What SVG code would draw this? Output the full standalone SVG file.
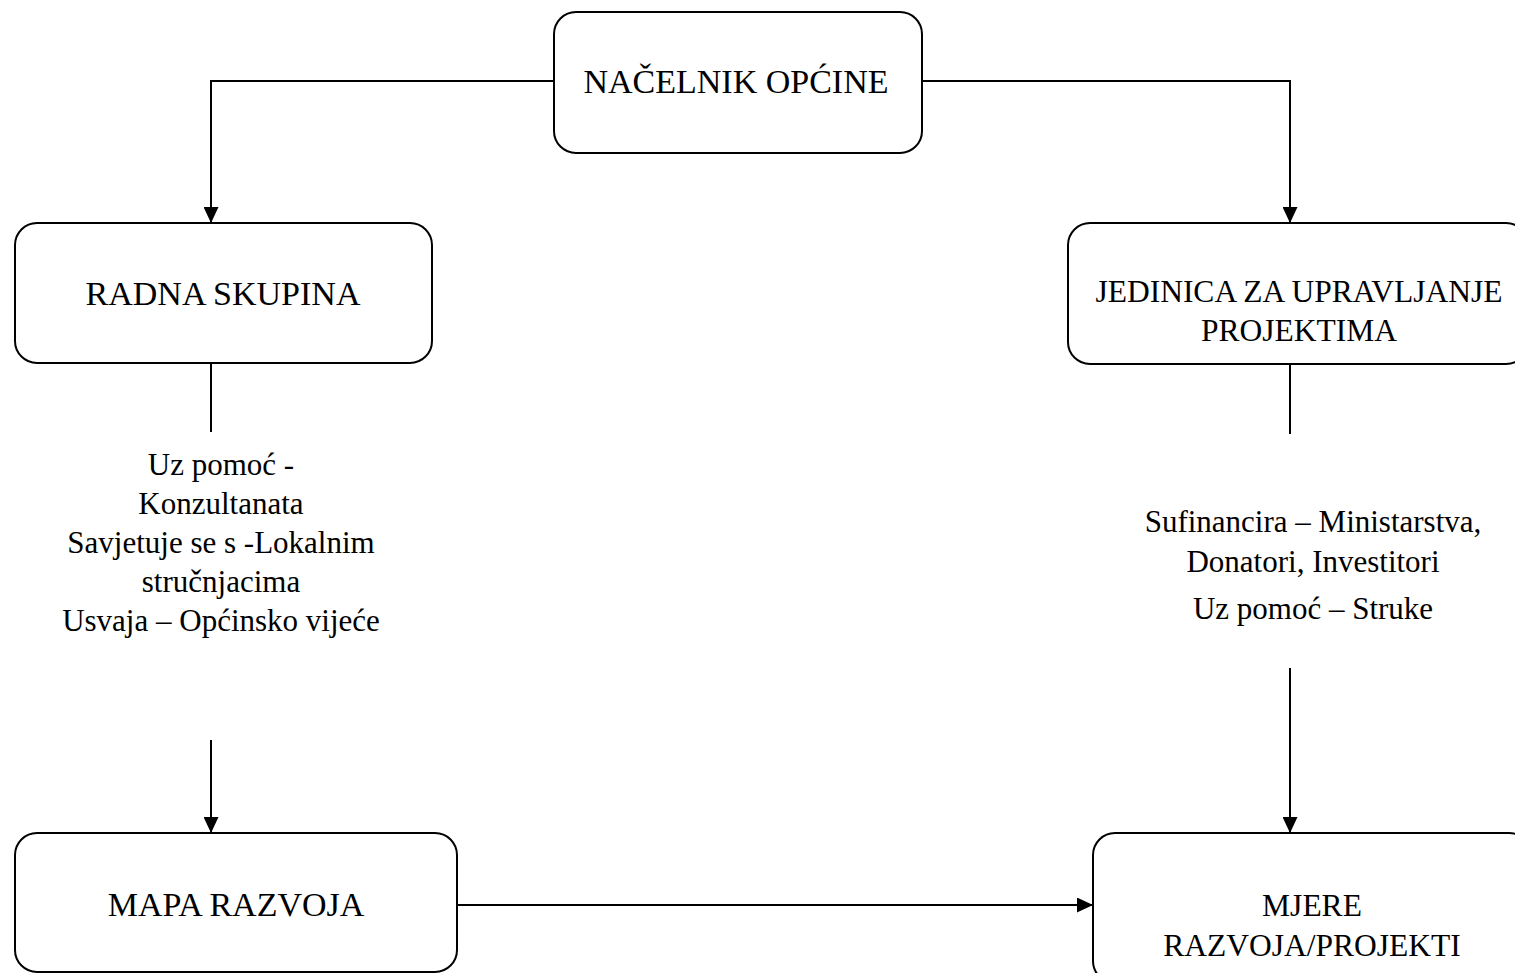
<svg xmlns="http://www.w3.org/2000/svg" width="1515" height="973" viewBox="0 0 1515 973">
<style>
.box{fill:#fff;stroke:#000;stroke-width:2}
.lbl{font-family:"Liberation Serif","Times New Roman",serif;font-size:34px;fill:#000;text-anchor:middle}
.lbl2{font-family:"Liberation Serif","Times New Roman",serif;font-size:31.5px;fill:#000;text-anchor:middle}
.txt{font-family:"Liberation Serif","Times New Roman",serif;font-size:31px;fill:#000;text-anchor:middle}
.con{fill:none;stroke:#000;stroke-width:2}
</style>
<defs>
<marker id="arr" markerUnits="userSpaceOnUse" markerWidth="16" markerHeight="15" refX="16" refY="7.5" orient="auto">
<path d="M0,0 L16,7.5 L0,15 z" fill="#000"/>
</marker>
</defs>
<rect width="1515" height="973" fill="#fff"/>
<g id="connectors">
<polyline class="con" points="554,81 211,81 211,223" marker-end="url(#arr)"/>
<polyline class="con" points="922,81 1290,81 1290,223" marker-end="url(#arr)"/>
<line class="con" x1="211" y1="363" x2="211" y2="432"/>
<line class="con" x1="211" y1="740" x2="211" y2="833" marker-end="url(#arr)"/>
<line class="con" x1="1290" y1="364" x2="1290" y2="434"/>
<line class="con" x1="1290" y1="668" x2="1290" y2="833" marker-end="url(#arr)"/>
<line class="con" x1="457" y1="905" x2="1093" y2="905" marker-end="url(#arr)"/>
</g>
<g id="nacelnik">
<rect class="box" x="554" y="12" width="368" height="141" rx="22"/>
<text class="lbl" x="736" y="93">NAČELNIK OPĆINE</text>
</g>
<g id="radna">
<rect class="box" x="15" y="223" width="417" height="140" rx="22"/>
<text class="lbl" x="223" y="305">RADNA SKUPINA</text>
</g>
<g id="jedinica">
<rect class="box" x="1068" y="223" width="460" height="141" rx="22"/>
<text class="lbl2" x="1299" y="302">JEDINICA ZA UPRAVLJANJE</text>
<text class="lbl2" x="1299" y="341">PROJEKTIMA</text>
</g>
<g id="mapa">
<rect class="box" x="15" y="833" width="442" height="139" rx="22"/>
<text class="lbl" x="236" y="916">MAPA RAZVOJA</text>
</g>
<g id="mjere">
<rect class="box" x="1093" y="833" width="438" height="150" rx="22"/>
<text class="lbl2" x="1312" y="916">MJERE</text>
<text class="lbl2" x="1312" y="956">RAZVOJA/PROJEKTI</text>
</g>
<g id="radna-text">
<text class="txt" x="221" y="475">Uz pomoć -</text>
<text class="txt" x="221" y="514">Konzultanata</text>
<text class="txt" x="221" y="553">Savjetuje se s -Lokalnim</text>
<text class="txt" x="221" y="592">stručnjacima</text>
<text class="txt" x="221" y="631">Usvaja – Općinsko vijeće</text>
</g>
<g id="jedinica-text">
<text class="txt" x="1313" y="532">Sufinancira – Ministarstva,</text>
<text class="txt" x="1313" y="572">Donatori, Investitori</text>
<text class="txt" x="1313" y="619">Uz pomoć – Struke</text>
</g>
</svg>
